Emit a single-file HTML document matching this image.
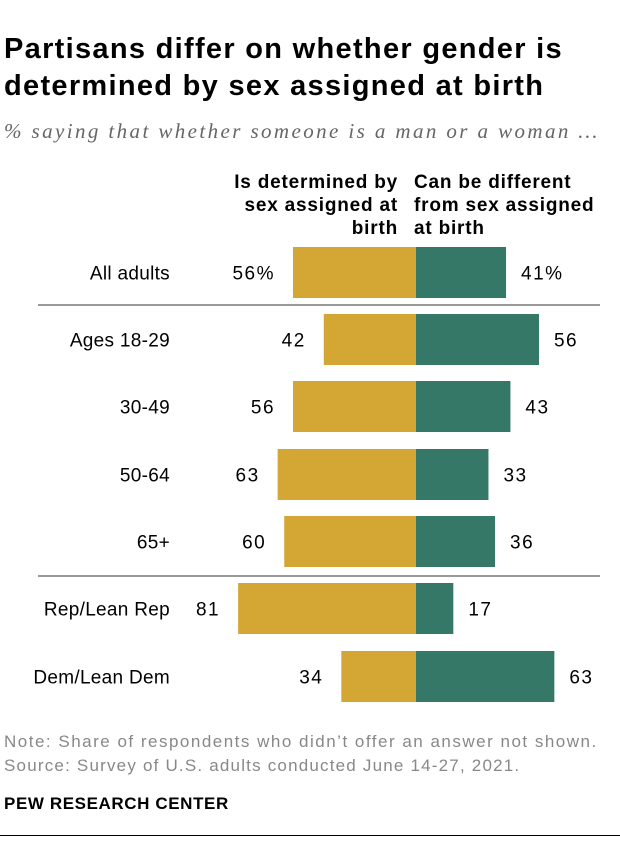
<!DOCTYPE html>
<html><head><meta charset="utf-8">
<style>
body{margin:0;width:620px;height:854px;background:#fff;font-family:"Liberation Sans",sans-serif;position:relative;overflow:hidden}
.t{position:absolute;white-space:nowrap}
</style></head>
<body>
<div class="t" style="left:4px;top:31px;font-size:29px;letter-spacing:1.3px;font-weight:bold;line-height:37px;color:#000">Partisans differ on whether gender is<br>determined by sex assigned at birth</div>
<div class="t" style="left:4px;top:119px;font-size:21px;letter-spacing:2.4px;font-style:italic;font-family:'Liberation Serif',serif;color:#666">% saying that whether someone is a man or a woman …</div>
<div class="t" style="right:222px;top:171px;font-size:19px;letter-spacing:0.8px;font-weight:bold;line-height:23px;text-align:right">Is determined by<br>sex assigned at<br>birth</div>
<div class="t" style="left:414px;top:171px;font-size:19px;letter-spacing:0.8px;font-weight:bold;line-height:23px">Can be different<br>from sex assigned<br>at birth</div>
<svg id="chart" width="620" height="854" style="position:absolute;left:0;top:0"></svg>
<div class="t" style="left:4px;top:732px;font-size:17px;letter-spacing:1.5px;color:#888">Note: Share of respondents who didn’t offer an answer not shown.</div>
<div class="t" style="left:4px;top:756px;font-size:17px;letter-spacing:1.2px;color:#888">Source: Survey of U.S. adults conducted June 14-27, 2021.</div>
<div class="t" style="left:4px;top:794px;font-size:17px;letter-spacing:0.6px;font-weight:bold;color:#000">PEW RESEARCH CENTER</div>
<div style="position:absolute;left:0;top:835px;width:620px;height:1px;background:#000"></div>
<script>
const categories=["All adults","Ages 18-29","30-49","50-64","65+","Rep/Lean Rep","Dem/Lean Dem"];
const determinedVals=[56,42,56,63,60,81,34];
const differentVals=[41,56,43,33,36,17,63];
const rowTops=[247,314,381,449,516,583,651];
const svg=document.getElementById('chart');
const NS='http://www.w3.org/2000/svg';
const cx=416,k=2.196,bh=51;
function x(v){return v*k;}
function mk(tag,attrs){const e=document.createElementNS(NS,tag);for(const a in attrs)e.setAttribute(a,attrs[a]);svg.appendChild(e);return e;}
[305,576].forEach(y=>{const l=mk('line',{x1:38,x2:600,y1:y,y2:y,stroke:'#999','stroke-width':2});

});
categories.forEach((c,i)=>{
 const y=rowTops[i],mid=y+bh/2+7;
 const pct=i===0?'%':'';
 const lb=mk('rect',{x:cx-x(determinedVals[i]),y:y,width:x(determinedVals[i]),height:bh,fill:'#d4a734'});
 
 
 const rb=mk('rect',{x:cx,y:y,width:x(differentVals[i]),height:bh,fill:'#357868'});
 
 
 const t=mk('text',{x:170,y:mid,'text-anchor':'end','font-size':19,'letter-spacing':0.3,fill:'#000'});t.textContent=c;
 
 
 const lv=mk('text',{x:cx-x(determinedVals[i])-18,y:mid,'text-anchor':'end','font-size':19,'letter-spacing':1.5});lv.textContent=determinedVals[i]+pct;
 
 
 const rv=mk('text',{x:cx+x(differentVals[i])+15,y:mid,'font-size':19,'letter-spacing':1.5});rv.textContent=differentVals[i]+pct;
 
 
});
</script>
</body></html>
